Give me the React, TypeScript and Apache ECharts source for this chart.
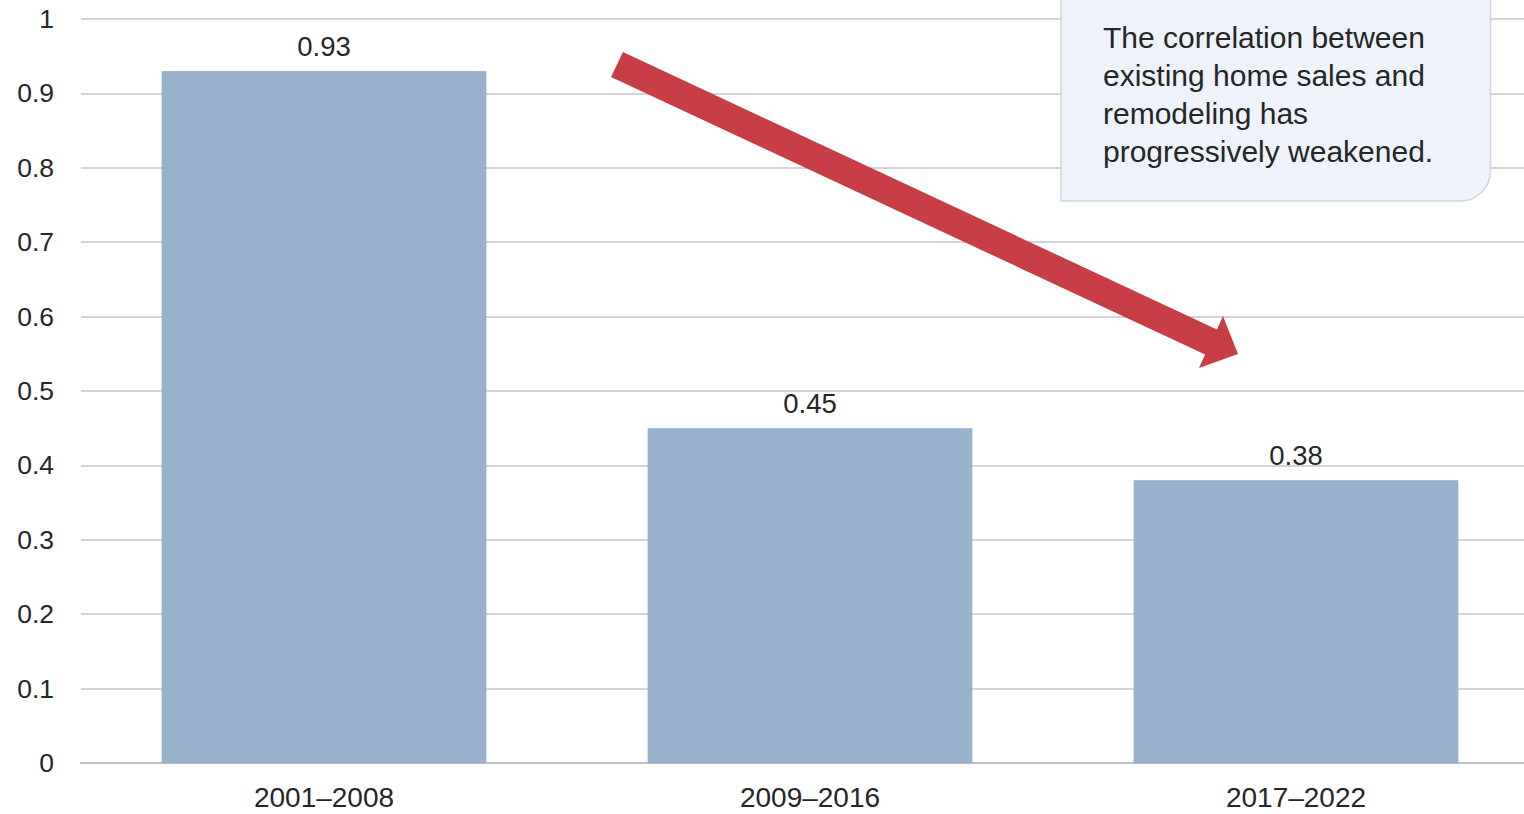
import React, { useEffect, useRef } from "react";
import * as echarts from "echarts";

const categories: string[] = ["2001–2008", "2009–2016", "2017–2022"];
const correlation: number[] = [0.93, 0.45, 0.38];
const yTicks = { min: 0, max: 1, interval: 0.1 };
const annotationLines: string[] = [
  "The correlation between",
  "existing home sales and",
  "remodeling has",
  "progressively weakened.",
];

const FONT = "'Liberation Sans', Arial, Helvetica, sans-serif";

export default function App() {
  const ref = useRef<HTMLDivElement | null>(null);

  useEffect(() => {
    if (!ref.current) return;
    const chart = echarts.init(ref.current, undefined, { renderer: "svg" });
    chart.setOption({
      animation: false,
      backgroundColor: "#ffffff",
      grid: { left: 81, top: 19, width: 1458, height: 744, containLabel: false },
      xAxis: {
        type: "category",
        data: categories,
        axisTick: { show: false },
        axisLine: { lineStyle: { color: "#BFBFBF", width: 2 } },
        axisLabel: {
          color: "#262626",
          fontFamily: FONT,
          fontSize: 28,
          margin: 20,
        },
      },
      yAxis: {
        type: "value",
        min: yTicks.min,
        max: yTicks.max,
        interval: yTicks.interval,
        axisLine: { show: false },
        axisTick: { show: false },
        splitLine: { lineStyle: { color: "#D4D4D4", width: 2 } },
        axisLabel: {
          color: "#262626",
          fontFamily: FONT,
          fontSize: 26.5,
          margin: 27,
          formatter: (v: number) => String(Math.round(v * 10) / 10),
        },
      },
      series: [
        {
          type: "bar",
          data: correlation,
          barCategoryGap: "33.2%",
          itemStyle: { color: "#98B3CB", borderColor: "#8FA9C0", borderWidth: 0.5 },
          label: {
            show: true,
            position: "top",
            distance: 11,
            color: "#262626",
            fontFamily: FONT,
            fontSize: 27.5,
            formatter: (p: any) => p.value.toFixed(2),
          },
        },
      ],
      graphic: [
        {
          type: "polygon",
          z: 100,
          shape: {
            points: [
              [623, 52],
              [1216.9, 329.5],
              [1223, 316],
              [1238, 354],
              [1199, 368],
              [1205.1, 354.5],
              [611, 77],
            ],
          },
          style: { fill: "#C83E46" },
        },
        {
          type: "rect",
          z: 100,
          shape: { x: 1061, y: -40, width: 429.5, height: 241, r: [0, 0, 30, 0] },
          style: { fill: "#EEF2FA", stroke: "#D2D6DE", lineWidth: 1.5 },
        },
        {
          type: "text",
          z: 101,
          x: 1103,
          y: 18,
          style: {
            text: annotationLines.join("\n"),
            fill: "#262626",
            font: `30px ${FONT}`,
            lineHeight: 38,
            textAlign: "left",
            textVerticalAlign: "top",
          },
        },
      ],
    });
    return () => chart.dispose();
  }, []);

  return (
    <div
      style={{
        position: "fixed",
        left: 0,
        top: 0,
        width: 1524,
        height: 814,
        overflow: "hidden",
        background: "#fff",
      }}
    >
      <div ref={ref} style={{ width: 1545, height: 814 }} />
    </div>
  );
}
